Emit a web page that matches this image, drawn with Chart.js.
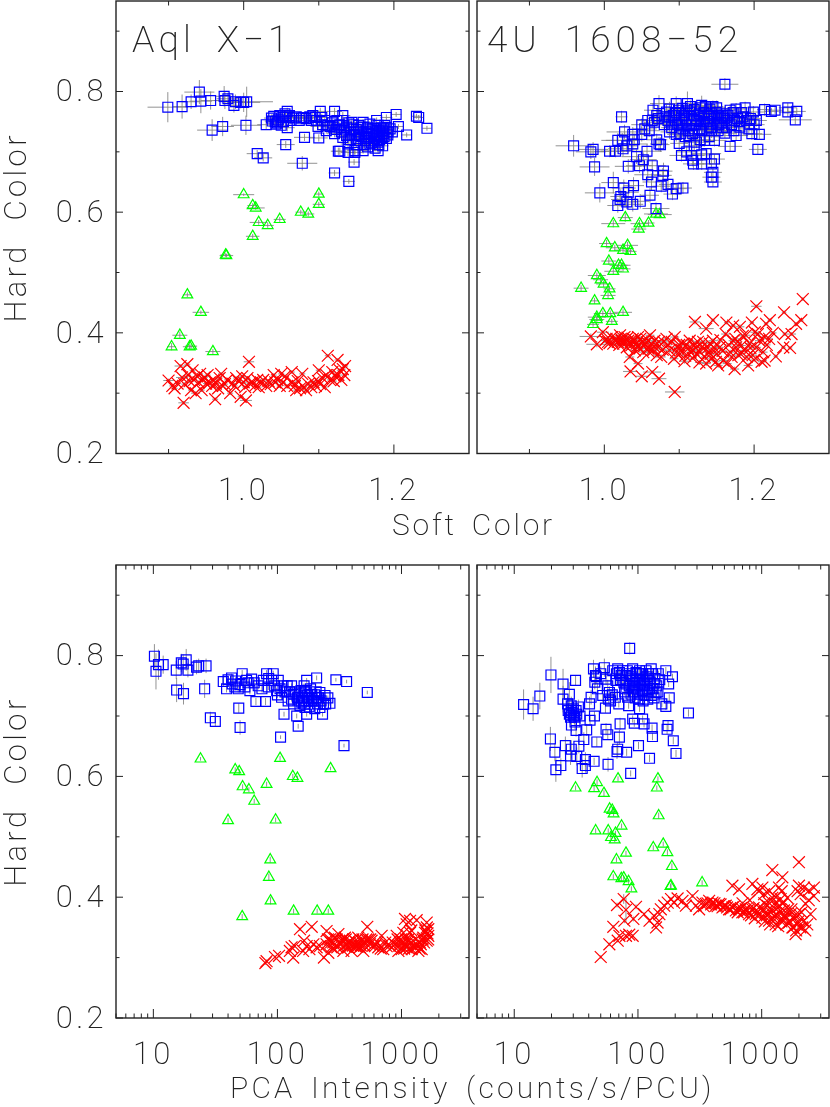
<!DOCTYPE html>
<html><head><meta charset="utf-8">
<script src="https://cdn.jsdelivr.net/npm/chart.js@4"></script>
<style>
html,body{margin:0;padding:0;background:#fff;width:830px;height:1107px;overflow:hidden}
canvas{position:absolute}
.t{position:absolute;font-family:Roboto,sans-serif;font-weight:200;color:#222;white-space:pre;line-height:1;will-change:opacity;opacity:.99}
</style></head><body>
<canvas id="c1" style="left:0;top:0" width="470" height="510"></canvas>
<canvas id="c2" style="left:476px;top:0" width="354" height="510"></canvas>
<canvas id="c3" style="left:0;top:540px" width="470" height="530"></canvas>
<canvas id="c4" style="left:476px;top:540px" width="354" height="530"></canvas>
<div class="t" style="left:132px;top:21px;font-size:37px;letter-spacing:4px;word-spacing:9px">Aql X−1</div>
<div class="t" style="left:487px;top:21px;font-size:37px;letter-spacing:5px;word-spacing:9px">4U 1608−52</div>
<div class="t" style="left:392px;top:510px;font-size:30px;letter-spacing:2.8px;word-spacing:5px">Soft Color</div>
<div class="t" style="left:230px;top:1073px;font-size:30px;letter-spacing:3.2px;word-spacing:5px">PCA Intensity (counts/s/PCU)</div>
<script>
// Colour-colour panels: [soft colour, hard colour, x error, y error]
const aqlSoftBlue=[[.899,.774,.027,.025],[.918,.775,.012,.02],[.930,.783,.012,.012],[.941,.799,.02,.02],[.943,.784,.015,.02],[.956,.785,.013,.015],[.974,.792,.012,.017],[.975,.785,.015,.014],[.979,.788,.015,.01],[.987,.777,.01,.012],[.989,.783,.012,.012],[.996,.782,.012,.01],[1.0,.782,.022,.016],[1.004,.783,.035,.025],[.958,.736,.02,.018],[.972,.742,.015,.016],[1.003,.744,.02,.016],[1.030,.745,.012,.008],[1.056,.712,.012,.006],[1.018,.697,.014,.006],[1.026,.690,.012,.006],[1.078,.681,.02,.012],[1.081,.724,.014,.006],[1.100,.723,.012,.006],
[1.037,.756,.01,.006],[1.040,.759,.01,.006],[1.038,.751,.01,.006],[1.043,.746,.01,.006],[1.046,.753,.01,.006],[1.048,.760,.01,.006],[1.050,.744,.01,.006],[1.055,.763,.01,.006],[1.058,.767,.01,.006],[1.058,.740,.01,.006],[1.061,.760,.01,.006],[1.061,.757,.01,.006],[1.066,.756,.01,.006],[1.077,.756,.01,.006],[1.080,.757,.01,.006],[1.092,.760,.01,.006],[1.095,.757,.01,.006],[1.097,.752,.01,.006],[1.099,.742,.01,.006],[1.102,.767,.01,.006],[1.104,.757,.01,.006],[1.108,.752,.01,.006],[1.112,.744,.01,.006],[1.115,.742,.01,.006],[1.119,.741,.01,.006],[1.121,.767,.01,.006],[1.124,.752,.01,.006],[1.126,.744,.01,.006],[1.121,.730,.01,.006],[1.132,.760,.01,.006],[1.132,.752,.01,.006],[1.137,.741,.01,.006],[1.137,.727,.01,.006],[1.144,.749,.01,.006],[1.146,.738,.01,.006],[1.139,.713,.01,.006],[1.126,.701,.01,.006],[1.128,.701,.01,.006],[1.139,.699,.01,.006],[1.148,.699,.01,.006],[1.148,.702,.01,.006],[1.159,.702,.008,.005],[1.147,.683,.008,.005],[1.121,.665,.008,.005],[1.140,.651,.008,.004],[1.179,.702,.008,.005],[1.168,.713,.008,.005],[1.179,.716,.008,.005],[1.159,.749,.008,.005],[1.159,.741,.008,.005],[1.164,.733,.008,.005],[1.168,.746,.008,.005],[1.170,.730,.008,.005],[1.177,.752,.008,.005],[1.179,.744,.008,.005],[1.181,.733,.008,.005],[1.186,.738,.008,.005],[1.190,.757,.008,.005],[1.184,.724,.008,.005],[1.190,.722,.008,.005],[1.192,.733,.008,.005],[1.198,.733,.008,.005],[1.206,.742,.007,.004],[1.203,.762,.007,.004],[1.217,.728,.007,.004],[1.230,.759,.007,.004],[1.233,.757,.007,.004],[1.244,.739,.006,.004],[1.152,.722,.008,.005],[1.153,.733,.008,.005],[1.157,.725,.008,.005],[1.162,.719,.008,.005],[1.166,.725,.008,.005],[1.173,.722,.008,.005],[1.177,.727,.008,.005],[1.175,.739,.008,.005],[1.186,.730,.008,.005],[1.188,.744,.008,.005],[1.153,.744,.008,.005],[1.148,.727,.008,.005],[1.142,.733,.008,.005],[1.130,.733,.008,.005],[1.132,.724,.008,.005],
[1.105,.745,.008,.005],[1.11,.735,.008,.005],[1.118,.748,.008,.005],[1.123,.737,.008,.005],[1.128,.745,.008,.005],[1.134,.738,.008,.005],[1.14,.748,.008,.005],[1.142,.72,.008,.005],[1.146,.745,.008,.005],[1.15,.737,.008,.005],[1.154,.728,.008,.005],[1.156,.74,.008,.005],[1.16,.73,.008,.005],[1.163,.722,.008,.005],[1.165,.74,.008,.005],[1.168,.73,.008,.005],[1.171,.738,.008,.005],[1.174,.718,.008,.005],[1.176,.733,.008,.005],[1.178,.725,.008,.005],[1.181,.72,.008,.005],[1.183,.74,.008,.005],[1.185,.735,.008,.005],[1.187,.725,.008,.005],[1.19,.74,.008,.005],[1.192,.728,.008,.005],[1.195,.738,.008,.005],[1.18,.712,.008,.005],[1.17,.715,.008,.005],[1.16,.712,.008,.005],[1.15,.712,.008,.005],[1.14,.72,.008,.005],[1.165,.708,.008,.005],[1.175,.706,.008,.005],[1.185,.71,.008,.005],[1.042,.75,.01,.006],[1.045,.748,.01,.006],[1.052,.757,.01,.006],[1.053,.75,.01,.006],[1.056,.758,.01,.006],[1.063,.752,.01,.006],[1.07,.758,.01,.006],[1.074,.752,.01,.006],[1.083,.755,.01,.006],[1.088,.758,.01,.006],[1.09,.752,.01,.006]];
const aqlSoftGreen=[[1.000,.629,.014,.002],[1.012,.611,.007,.004],[1.016,.607,.012,.003],[1.020,.583,.012,.004],[1.032,.578,.008,.004],[1.048,.588,.008,.004],[1.012,.560,.009,.004],[.977,.528,.009,.003],[.976,.529,.007,.003],[1.076,.600,.007,.004],[1.086,.597,.008,.004],[1.100,.630,.006,.004],[1.100,.613,.008,.004],[.925,.463,.006,.004],[.943,.434,.011,.003],[.915,.396,.01,.006],[.904,.377,.006,.006],[.928,.377,.009,.004],[.930,.378,.008,.004],[.959,.369,.01,.004]];
const aqlSoftRed=[[.900,.321,.007,.003],[.905,.312,.004,.003],[.908,.308,.004,.003],[.912,.316,.004,.003],[.916,.345,.008,.003],[.918,.326,.008,.003],[.920,.284,.007,.003],[.921,.315,.004,.003],[.925,.348,.004,.003],[.926,.330,.004,.003],[.928,.320,.004,.003],[.930,.305,.004,.003],[.932,.338,.004,.003],[.934,.322,.004,.003],[.936,.300,.006,.003],[.938,.328,.004,.003],[.940,.318,.004,.003],[.942,.332,.004,.003],[.944,.305,.004,.003],[.946,.323,.004,.003],[.948,.326,.004,.003],[.950,.316,.004,.003],[.952,.330,.004,.003],[.955,.318,.004,.003],[.958,.312,.004,.003],[.960,.322,.004,.003],[.962,.290,.004,.003],[.963,.316,.004,.003],[.966,.308,.004,.003],[.968,.325,.004,.003],[.970,.332,.004,.003],[.972,.312,.004,.003],[.975,.315,.004,.003],[.978,.322,.004,.003],[.982,.300,.004,.003],[.985,.316,.004,.003],[.988,.312,.004,.003],[.990,.325,.004,.003],[.993,.320,.004,.003],[.996,.294,.004,.003],[.998,.328,.004,.003],[1.000,.318,.004,.003],[1.002,.310,.004,.003],[1.003,.288,.008,.003],[1.005,.325,.004,.003],[1.007,.352,.007,.003],[1.008,.316,.004,.003],[1.012,.318,.004,.003],[1.015,.312,.004,.003],[1.018,.322,.004,.003],[1.02,.310,.004,.003],[1.023,.318,.004,.003],[1.026,.322,.004,.003],[1.03,.312,.004,.003],[1.033,.32,.004,.003],[1.036,.315,.004,.003],[1.04,.33,.004,.003],[1.042,.318,.004,.003],[1.045,.322,.004,.003],[1.048,.312,.004,.003],[1.05,.332,.004,.003],[1.052,.318,.004,.003],[1.055,.328,.004,.003],[1.058,.312,.004,.003],[1.064,.335,.004,.003],[1.065,.318,.004,.003],[1.068,.312,.004,.003],[1.07,.305,.004,.003],[1.072,.32,.004,.003],[1.075,.308,.004,.003],[1.078,.332,.004,.003],[1.08,.31,.004,.003],[1.083,.305,.004,.003],[1.086,.315,.004,.003],[1.09,.31,.004,.003],[1.093,.318,.004,.003],[1.096,.312,.004,.003],[1.099,.32,.004,.003],[1.10,.338,.004,.003],[1.102,.315,.004,.003],[1.105,.325,.004,.003],[1.108,.31,.004,.003],[1.11,.33,.004,.003],[1.112,.362,.004,.003],[1.115,.322,.004,.003],[1.118,.335,.004,.003],[1.12,.32,.004,.003],[1.122,.328,.004,.003],[1.125,.355,.004,.003],[1.126,.33,.004,.003],[1.128,.338,.004,.003],[1.13,.322,.004,.003],[1.132,.34,.004,.003],[1.134,.33,.004,.003],[1.135,.345,.004,.003]];
const u4SoftBlue=[[1.161,.812,.018,.01],[1.023,.758,.008,.01],[.959,.710,.024,.018],[.985,.704,.02,.012],[.982,.700,.02,.012],[1.007,.701,.02,.01],[1.015,.701,.02,.01],[1.018,.719,.022,.012],[1.024,.719,.022,.012],[1.027,.733,.024,.012],[1.038,.729,.02,.012],[1.038,.713,.02,.012],[1.025,.705,.02,.012],[.987,.675,.02,.015],[1.032,.676,.018,.012],[1.047,.677,.018,.012],[1.052,.687,.018,.012],[1.043,.692,.02,.012],[1.057,.701,.02,.012],[1.064,.677,.018,.01],[1.058,.662,.018,.012],[1.012,.649,.016,.018],[.994,.632,.02,.016],[1.026,.640,.016,.014],[1.039,.644,.014,.014],[1.032,.633,.014,.014],[1.022,.626,.014,.012],[1.021,.621,.012,.012],[1.018,.611,.014,.012],[1.030,.617,.014,.012],[1.038,.613,.014,.012],[1.048,.618,.012,.012],[1.061,.628,.012,.012],[1.063,.650,.012,.014],[1.079,.668,.012,.014],[1.078,.661,.012,.012],[1.076,.643,.012,.01],[1.085,.646,.012,.01],[1.091,.630,.012,.01],[1.096,.639,.014,.01],[1.105,.640,.012,.01],[1.069,.606,.018,.01],[1.073,.713,.012,.012],[1.075,.712,.012,.012],[1.050,.729,.014,.012],[1.054,.738,.016,.012],[1.065,.769,.012,.012],[1.073,.780,.012,.014],[1.064,.752,.014,.012],[1.072,.755,.014,.012],[1.070,.760,.014,.012],[1.081,.758,.016,.012],[1.087,.771,.016,.012],[1.096,.780,.016,.012],[1.099,.769,.016,.012],[1.103,.760,.016,.014],[1.111,.780,.014,.02],[1.105,.749,.014,.012],[1.090,.746,.012,.012],[1.087,.733,.012,.012],[1.096,.729,.012,.012],[1.100,.714,.012,.012],[1.103,.694,.016,.01],[1.116,.694,.018,.01],[1.118,.686,.014,.01],[1.119,.680,.014,.01],[1.130,.680,.014,.01],[1.136,.697,.02,.008],[1.147,.688,.014,.008],[1.143,.680,.012,.008],[1.145,.666,.012,.008],[1.143,.658,.012,.008],[1.145,.650,.012,.008],[1.168,.709,.016,.008],[1.176,.727,.016,.008],[1.161,.731,.016,.008],[1.147,.719,.016,.01],[1.134,.719,.016,.01],[1.123,.716,.016,.01],[1.113,.727,.016,.012],[1.127,.738,.016,.012],[1.116,.744,.014,.012],[1.110,.755,.014,.012],[1.119,.760,.014,.012],[1.130,.777,.016,.016],[1.127,.763,.016,.012],[1.141,.771,.014,.012],[1.139,.755,.014,.012],[1.137,.738,.014,.012],[1.150,.746,.014,.012],[1.152,.760,.014,.012],[1.161,.763,.014,.012],[1.163,.752,.014,.01],[1.174,.752,.016,.01],[1.176,.771,.014,.01],[1.188,.773,.014,.01],[1.199,.766,.014,.01],[1.185,.758,.014,.01],[1.193,.738,.014,.01],[1.203,.752,.014,.01],[1.207,.729,.016,.008],[1.205,.704,.012,.008],[1.214,.770,.01,.01],[1.223,.767,.01,.006],[1.228,.769,.01,.006],[1.245,.773,.012,.008],[1.245,.766,.012,.008],[1.257,.767,.012,.006],[1.255,.753,.022,.008],[1.168,.769,.014,.01],[1.152,.735,.014,.01],[1.123,.752,.014,.012],[1.101,.744,.014,.012],[1.092,.760,.014,.012],[1.083,.766,.014,.012],[1.067,.749,.014,.012],[1.114,.766,.014,.012],[1.132,.746,.014,.012],[1.143,.763,.014,.012],[1.156,.749,.014,.01],[1.194,.746,.014,.01],[1.181,.741,.014,.01],[1.163,.741,.014,.01],[1.141,.746,.014,.012],[1.105,.738,.014,.012],[1.087,.758,.014,.012],[1.128,.773,.012,.012],[1.150,.773,.012,.012],[1.134,.755,.012,.012],[1.110,.769,.012,.012],[1.120,.738,.012,.012],[1.143,.735,.012,.012],[1.095,.752,.012,.012],[1.158,.758,.012,.01],
[1.08,.745,.014,.01],[1.085,.752,.014,.01],[1.09,.74,.014,.01],[1.095,.765,.014,.01],[1.098,.745,.014,.01],[1.102,.73,.014,.01],[1.104,.772,.014,.01],[1.107,.76,.014,.01],[1.11,.745,.014,.01],[1.112,.735,.014,.01],[1.115,.775,.014,.01],[1.117,.755,.014,.01],[1.12,.77,.014,.01],[1.122,.745,.014,.01],[1.125,.76,.014,.01],[1.128,.75,.014,.01],[1.13,.735,.014,.01],[1.133,.765,.014,.01],[1.135,.775,.014,.01],[1.138,.75,.014,.01],[1.14,.76,.014,.01],[1.142,.74,.014,.01],[1.145,.775,.014,.01],[1.147,.755,.014,.01],[1.15,.765,.014,.01],[1.153,.745,.014,.01],[1.155,.755,.014,.01],[1.158,.74,.014,.01],[1.16,.755,.014,.01],[1.165,.76,.014,.01],[1.17,.745,.014,.01],[1.173,.735,.014,.01],[1.178,.755,.014,.01],[1.18,.75,.014,.01],[1.183,.765,.014,.01],[1.19,.752,.014,.01],[1.195,.755,.014,.01],[1.2,.745,.014,.01],[1.197,.73,.014,.01],[1.172,.765,.014,.01],[1.10,.752,.014,.01],[1.108,.725,.014,.01],[1.118,.73,.014,.01],[1.128,.72,.014,.01],[1.14,.725,.014,.01],[1.11,.7,.014,.01],[1.12,.71,.014,.01],[1.13,.695,.014,.01],[1.06,.735,.014,.01],[1.05,.745,.014,.01],[1.058,.752,.014,.01],[1.04,.72,.014,.01],[1.03,.71,.014,.01],[1.07,.72,.014,.01]];
const u4SoftGreen=[[1.069,.597,.016,.006],[1.074,.596,.016,.006],[1.028,.591,.01,.007],[1.012,.581,.016,.006],[1.047,.581,.012,.006],[1.059,.582,.008,.005],[1.046,.572,.01,.005],[1.003,.548,.01,.006],[1.014,.541,.012,.005],[1.031,.545,.014,.006],[1.025,.537,.012,.005],[1.035,.535,.008,.005],[1.006,.519,.01,.006],[1.019,.512,.012,.005],[1.012,.502,.012,.005],[1.023,.512,.012,.005],[1.025,.506,.01,.005],[.990,.495,.012,.005],[.995,.488,.01,.005],[.999,.481,.01,.005],[.969,.474,.01,.005],[1.007,.473,.008,.005],[1.005,.462,.01,.005],[.987,.453,.006,.005],[1.025,.434,.012,.005],[1.008,.432,.01,.005],[.998,.432,.012,.005],[.990,.426,.012,.004],[.990,.422,.01,.004],[.985,.414,.008,.004],[1.010,.419,.008,.004]];
const u4SoftRed=[[1.265,.456,.002,.003],[1.203,.444,.007,.003],[1.240,.434,.003,.003],[1.263,.421,.003,.003],[1.256,.415,.003,.003],[1.250,.398,.006,.003],[1.241,.398,.003,.003],[1.248,.375,.003,.003],[1.239,.376,.003,.003],[1.229,.361,.003,.003],[1.214,.354,.003,.003],[1.221,.421,.003,.003],[1.216,.415,.003,.003],[1.197,.417,.003,.003],[1.121,.418,.007,.004],[1.145,.421,.003,.003],[1.163,.417,.003,.003],[1.172,.412,.003,.003],[1.136,.407,.01,.003],[.982,.394,.015,.005],[.998,.401,.008,.004],[.990,.381,.014,.005],[1.094,.302,.013,.003],[1.073,.324,.01,.003],[1.064,.335,.012,.003],[1.050,.328,.008,.003],[1.035,.336,.01,.003],[1.045,.349,.006,.003],[1.001,.387,.006,.004],[1.005,.385,.006,.004],[1.010,.393,.006,.004],[1.012,.382,.006,.004],[1.016,.390,.006,.004],[1.018,.385,.006,.004],[1.021,.396,.006,.004],[1.023,.387,.006,.004],[1.025,.382,.006,.004],[1.027,.393,.006,.004],[1.030,.376,.006,.004],[1.032,.387,.006,.004],[1.034,.360,.006,.004],[1.036,.379,.006,.004],[1.038,.390,.006,.004],[1.041,.371,.006,.004],[1.043,.382,.006,.004],[1.045,.393,.006,.004],[1.047,.374,.006,.004],[1.050,.385,.006,.004],[1.052,.368,.006,.004],[1.054,.382,.006,.004],[1.056,.390,.006,.004],[1.059,.374,.006,.004],[1.061,.396,.006,.004],[1.063,.382,.006,.004],[1.065,.371,.006,.004],[1.067,.387,.006,.004],[1.070,.363,.006,.004],[1.072,.376,.006,.004],[1.076,.360,.006,.004],[1.079,.385,.006,.004],[1.083,.390,.006,.004],[1.087,.371,.006,.004],[1.093,.357,.006,.004],[1.094,.393,.006,.004],[1.098,.376,.006,.004],[1.101,.365,.006,.004],[1.105,.382,.006,.004],[1.107,.353,.006,.004],[1.112,.374,.006,.004],[1.114,.387,.006,.004],[1.119,.371,.006,.004],[1.121,.382,.006,.004],[1.123,.365,.006,.004],[1.127,.351,.006,.004],[1.130,.376,.006,.004],[1.132,.385,.006,.004],[1.136,.349,.006,.004],[1.139,.368,.006,.004],[1.141,.382,.006,.004],[1.143,.357,.006,.004],[1.145,.387,.006,.004],[1.150,.365,.006,.004],[1.152,.346,.006,.004],[1.154,.376,.006,.004],[1.159,.354,.006,.004],[1.162,.398,.006,.004],[1.164,.349,.006,.004],[1.168,.368,.006,.004],[1.172,.387,.006,.004],[1.174,.340,.006,.004],[1.176,.376,.006,.004],[1.179,.363,.006,.004],[1.181,.410,.006,.004],[1.183,.379,.006,.004],[1.187,.371,.006,.004],[1.189,.396,.006,.004],[1.192,.346,.006,.004],[1.194,.382,.006,.004],[1.198,.363,.006,.004],[1.201,.401,.006,.004],[1.203,.376,.006,.004],[1.207,.387,.006,.004],[1.212,.368,.006,.004],[1.214,.393,.006,.004],
[1.003,.39,.005,.003],[1.007,.383,.005,.003],[1.014,.388,.005,.003],[1.02,.38,.005,.003],[1.022,.39,.005,.003],[1.028,.385,.005,.003],[1.031,.392,.005,.003],[1.035,.383,.005,.003],[1.04,.388,.005,.003],[1.044,.378,.005,.003],[1.048,.39,.005,.003],[1.053,.378,.005,.003],[1.057,.384,.005,.003],[1.06,.368,.005,.003],[1.066,.378,.005,.003],[1.073,.385,.005,.003],[1.078,.372,.005,.003],[1.085,.38,.005,.003],[1.09,.385,.005,.003],[1.096,.368,.005,.003],[1.1,.38,.005,.003],[1.103,.372,.005,.003],[1.108,.362,.005,.003],[1.11,.38,.005,.003],[1.115,.368,.005,.003],[1.118,.358,.005,.003],[1.122,.375,.005,.003],[1.125,.385,.005,.003],[1.128,.368,.005,.003],[1.134,.36,.005,.003],[1.138,.375,.005,.003],[1.142,.365,.005,.003],[1.147,.375,.005,.003],[1.149,.352,.005,.003],[1.155,.388,.005,.003],[1.158,.37,.005,.003],[1.166,.38,.005,.003],[1.17,.36,.005,.003],[1.175,.39,.005,.003],[1.178,.385,.005,.003],[1.182,.365,.005,.003],[1.185,.395,.005,.003],[1.19,.36,.005,.003],[1.195,.375,.005,.003],[1.2,.355,.005,.003],[1.205,.398,.005,.003],[1.21,.352,.005,.003],[1.217,.38,.005,.003],[1.22,.39,.005,.003],[1.225,.4,.005,.003]];
// Intensity panels: [counts/s/PCU, hard colour, y error]
const aqlIntBlue=[[10.2,.799,.02],[10.5,.774,.03],[11,.785,.025],[12,.785,.015],[15.4,.743,.02],[15.3,.776,.015],[16.8,.788,.015],[18.4,.793,.018],[17.4,.786,.016],[19,.776,.012],[17.5,.737,.018],[22.3,.781,.012],[23.2,.783,.012],[26.6,.783,.012],[25.9,.745,.015],[28.8,.697,.01],[31.6,.691,.008],[50,.681,.012],[48.8,.713,.008],[36.6,.757,.008],[38.9,.745,.006],[42.7,.763,.007],[43.2,.753,.007],[45.4,.748,.006],[48.3,.745,.006],[52,.770,.006],[54.7,.748,.006],[56.4,.759,.006],[60,.742,.006],[61.9,.761,.006],[67.1,.724,.006],[80.2,.724,.006],[76.9,.759,.006],[81.8,.770,.006],[84.4,.748,.005],[89.7,.759,.005],[92.5,.770,.005],[98.5,.742,.005],[101.6,.759,.005],[108,.731,.004],[111,.750,.004],[113,.703,.004],[122,.725,.004],[134,.736,.004],[143,.700,.004],[147,.683,.004],[157,.723,.004],[164,.750,.004],[172,.759,.004],[177,.725,.004],[189,.736,.004],[200,.712,.004],[207,.763,.004],[207,.731,.004],[220,.739,.004],[231,.703,.004],[242,.734,.004],[265,.721,.004],[296,.760,.003],[361,.757,.003],[530,.739,.003],[344,.651,.003],[106,.665,.003],[152,.717,.004],[172,.703,.004],[189,.725,.004],[167,.714,.004],[220,.714,.004],[147,.731,.004],[130,.728,.004],
[40,.76,.006],[46,.758,.006],[50,.752,.006],[58,.755,.006],[65,.755,.006],[70,.75,.006],[75,.745,.006],[85,.762,.005],[95,.75,.005],[100,.735,.005],[105,.745,.005],[115,.74,.004],[120,.75,.004],[125,.74,.004],[130,.75,.004],[135,.72,.004],[140,.74,.004],[145,.73,.004],[150,.738,.004],[155,.742,.004],[160,.73,.004],[165,.72,.004],[170,.74,.004],[175,.735,.004],[180,.715,.004],[185,.745,.004],[190,.73,.004],[195,.725,.004],[205,.74,.004],[210,.72,.004],[215,.73,.004],[225,.725,.004],[235,.72,.004],[245,.72,.004],[255,.73,.004],[200,.735,.004],[180,.73,.004],[170,.725,.004],[150,.725,.004],[165,.74,.004]];
const aqlIntGreen=[[24,.629,.003],[45.7,.611,.004],[49.2,.608,.004],[52.4,.583,.004],[58.9,.578,.004],[81.8,.587,.004],[65,.559,.004],[105,.630,.004],[133,.600,.004],[145,.597,.004],[268,.613,.003],[40,.527,.004],[96.7,.528,.004],[87.5,.462,.005],[85.3,.433,.006],[88,.394,.006],[52,.368,.004],[135,.377,.004],[209,.377,.004],[257,.377,.004]];
const aqlIntRed=[[80,.291,.003],[81.8,.294,.003],[95.5,.301,.003],[103,.303,.003],[130,.317,.003],[126,.311,.003],[134,.300,.003],[138,.319,.003],[152,.347,.003],[164,.328,.003],[161,.311,.003],[172,.319,.003],[189,.351,.003],[181,.314,.003],[195,.322,.003],[207,.317,.003],[220,.319,.003],[237,.300,.003],[249,.344,.003],[249,.322,.003],[257,.308,.003],[265,.330,.003],[273,.317,.003],[282,.325,.003],[291,.333,.003],[304,.317,.003],[310,.339,.003],[319,.322,.003],[329,.328,.003],[340,.311,.003],[350,.333,.003],[361,.322,.003],[372,.317,.003],[384,.328,.003],[396,.311,.003],[409,.330,.003],[422,.319,.003],[434,.325,.003],[448,.333,.003],[462,.317,.003],[477,.328,.003],[492,.311,.003],[508,.325,.003],[530,.351,.003],[540,.330,.003],[557,.322,.003],[574,.328,.003],[611,.319,.003],[650,.317,.003],[692,.336,.003],[713,.314,.003],[759,.319,.003],[833,.317,.003],[887,.322,.003],[915,.336,.003],[944,.311,.003],[973,.325,.003],[1003,.314,.003],[1035,.341,.003],[1067,.364,.003],[1067,.322,.003],[1100,.317,.003],[1135,.330,.003],[1172,.361,.003],[1172,.341,.003],[1208,.314,.003],[1285,.317,.003],[1325,.362,.003],[1325,.322,.003],[1368,.311,.003],[1409,.325,.003],[1455,.314,.003],[1500,.333,.003],[1546,.341,.003],[1596,.358,.003],[1596,.328,.003],[1644,.336,.003],[1644,.347,.003],
[255,.33,.003],[270,.325,.003],[285,.315,.003],[300,.33,.003],[315,.325,.003],[335,.33,.003],[345,.32,.003],[355,.33,.003],[375,.325,.003],[390,.32,.003],[405,.32,.003],[430,.32,.003],[440,.318,.003],[455,.325,.003],[470,.32,.003],[485,.33,.003],[500,.32,.003],[520,.33,.003],[560,.33,.003],[590,.32,.003],[640,.325,.003],[680,.315,.003],[740,.325,.003],[800,.32,.003],[850,.325,.003],[930,.33,.003],[960,.32,.003],[990,.33,.003],[1020,.325,.003],[1050,.315,.003],[1090,.33,.003],[1120,.325,.003],[1150,.315,.003],[1190,.325,.003],[1250,.32,.003],[1300,.33,.003],[1350,.32,.003],[1400,.315,.003],[1430,.322,.003],[1480,.33,.003],[1520,.325,.003],[1560,.345,.003],[1620,.34,.003],[1640,.33,.003],[1600,.35,.003],[1200,.345,.003],[1100,.355,.003]];
const u4IntBlue=[[85.7,.812,.01],[19.8,.768,.03],[24.8,.753,.025],[31.3,.759,.008],[16.1,.733,.022],[11.9,.719,.025],[14.2,.712,.02],[24.8,.728,.022],[27.9,.736,.02],[28.9,.717,.015],[27.9,.703,.012],[30.1,.700,.012],[31.6,.709,.012],[28.9,.706,.012],[30,.712,.012],[30.7,.698,.012],[27.3,.709,.012],[43.7,.778,.015],[45.3,.767,.015],[44.8,.756,.012],[53.5,.780,.015],[55.2,.761,.01],[57,.750,.01],[58.8,.739,.01],[51.9,.734,.012],[58,.728,.008],[41.8,.731,.012],[40.6,.720,.012],[41,.693,.008],[44.5,.700,.008],[54.6,.713,.008],[65.6,.731,.008],[62.5,.775,.006],[68.6,.778,.006],[66.6,.759,.006],[75.3,.775,.006],[75.3,.759,.006],[80,.745,.006],[85,.770,.006],[90.6,.759,.005],[96.4,.772,.005],[96.4,.748,.005],[103,.761,.005],[109,.770,.005],[109,.742,.005],[116,.775,.005],[120,.759,.005],[120,.728,.005],[131,.770,.005],[135,.753,.005],[140,.739,.005],[103,.728,.005],[84,.717,.005],[103,.712,.005],[168,.775,.006],[190,.765,.005],[177,.753,.005],[179,.730,.006],[156,.720,.005],[168,.716,.006],[256,.705,.006],[71.7,.687,.01],[90.6,.695,.006],[93.4,.688,.006],[109,.695,.006],[112,.687,.006],[130,.680,.006],[175,.684,.008],[172,.678,.008],[131,.666,.006],[193,.659,.006],[203,.638,.006],[101,.651,.006],[124,.630,.006],[87.3,.605,.005],[81,.640,.006],[68.6,.645,.012],[67.7,.641,.012],[70.8,.665,.012],[57,.669,.008],[55.2,.678,.01],[46.5,.657,.008],[38.5,.677,.01],[36.5,.661,.012],[31.6,.676,.01],[33.3,.650,.012],[19.6,.662,.02],[21.3,.640,.015],[25.9,.651,.015],[28.9,.645,.015],[28.5,.634,.015],[32,.633,.015],[37.6,.628,.012],[44.2,.625,.006],[57.3,.620,.012],[37.6,.618,.012],[35.4,.613,.015],[23.8,.618,.012],[21.7,.611,.02],[70.8,.772,.006],[80,.767,.006],[90.6,.745,.006],[103,.775,.006],[112,.753,.005],[124,.745,.005],[128,.778,.005],[80,.753,.006],[99.8,.736,.005],[116,.734,.005],[90.6,.778,.005],[106,.750,.005],[87.9,.736,.006],[128,.734,.005],[73,.767,.006],[96.4,.761,.006],[82.5,.731,.006],
[67,.77,.006],[72,.76,.006],[77,.755,.006],[82,.775,.006],[88,.765,.005],[93,.75,.005],[98,.77,.005],[100,.755,.005],[105,.77,.005],[110,.76,.005],[113,.75,.005],[118,.765,.005],[122,.77,.005],[126,.755,.005],[132,.745,.005],[137,.762,.005],[142,.75,.005],[146,.77,.005],[150,.76,.005],[78,.74,.006],[85,.75,.006],[92,.74,.005],[100,.74,.005],[112,.735,.005],[120,.74,.005],[135,.73,.005],[145,.74,.005],[95,.73,.005],[110,.725,.005],[70,.72,.006],[60,.725,.008],[62,.735,.008],[46,.765,.012],[50,.77,.012],[47,.745,.01],[30,.705,.012],[29,.71,.012],[32,.703,.012],[28.5,.698,.012],[33,.715,.012],[31,.69,.012],[29,.685,.012],[27,.72,.012],[34,.70,.012]];
const u4IntGreen=[[31.3,.581,.004],[46.7,.590,.005],[44.2,.580,.005],[69,.596,.004],[53.1,.572,.005],[145,.596,.004],[142,.581,.004],[59,.546,.004],[62,.544,.004],[63.5,.538,.004],[147,.535,.005],[73.7,.518,.004],[45.5,.510,.004],[57.5,.510,.004],[65.8,.506,.004],[60.5,.499,.004],[64.9,.495,.004],[133,.482,.004],[160,.488,.004],[173,.474,.005],[80,.473,.004],[67,.462,.004],[188,.451,.005],[63.2,.434,.004],[73.4,.431,.004],[76.7,.432,.004],[84,.426,.004],[88.5,.414,.004],[185,.419,.005],[183,.418,.004],[330,.424,.004]];
const u4IntRed=[[50,.301,.003],[58.7,.322,.003],[68.6,.328,.003],[63.2,.351,.003],[67.7,.387,.004],[76.7,.397,.008],[80,.379,.02],[77.7,.361,.004],[91.8,.364,.004],[96.4,.384,.004],[70.8,.336,.003],[80,.336,.003],[85,.338,.003],[90.6,.336,.003],[112,.372,.003],[124,.361,.003],[135,.369,.003],[140,.350,.003],[144,.358,.003],[149,.372,.003],[153,.380,.003],[163,.386,.003],[174,.391,.003],[185,.397,.003],[196,.391,.003],[209,.398,.003],[229,.394,.003],[244,.386,.003],[276,.402,.003],[294,.386,.003],[312,.380,.003],[332,.391,.003],[354,.389,.003],[376,.394,.003],[400,.391,.003],[426,.386,.003],[453,.389,.003],[482,.383,.003],[512,.386,.003],[545,.380,.003],[580,.419,.003],[580,.383,.003],[618,.378,.003],[656,.413,.003],[656,.380,.003],[698,.375,.003],[743,.380,.003],[791,.372,.003],[841,.422,.003],[841,.380,.003],[895,.372,.003],[923,.413,.003],[952,.383,.003],[1013,.366,.003],[1013,.416,.003],[1045,.405,.003],[1078,.375,.003],[1111,.386,.003],[1146,.361,.003],[1183,.375,.003],[1219,.445,.003],[1219,.399,.003],[1258,.369,.003],[1297,.355,.003],[1340,.383,.003],[1380,.416,.003],[1380,.375,.003],[1423,.397,.003],[1469,.433,.003],[1469,.364,.003],[1514,.378,.003],[1563,.366,.003],[1611,.399,.003],[1663,.358,.003],[1714,.372,.003],[1770,.350,.003],[1824,.364,.003],[1880,.339,.003],[1941,.355,.003],[2000,.458,.003],[2000,.419,.003],[2000,.372,.003],[2065,.405,.003],[2128,.350,.003],[2198,.416,.003],[2265,.389,.003],[2336,.355,.003],[2410,.411,.003],[2483,.372,.003],[2642,.416,.003],[2642,.402,.003],
[340,.385,.003],[365,.39,.003],[390,.388,.003],[415,.39,.003],[440,.385,.003],[465,.388,.003],[495,.385,.003],[525,.383,.003],[560,.38,.003],[600,.385,.003],[640,.375,.003],[680,.382,.003],[720,.375,.003],[770,.378,.003],[820,.37,.003],[860,.382,.003],[880,.365,.003],[920,.375,.003],[980,.372,.003],[1030,.38,.003],[1060,.36,.003],[1100,.37,.003],[1130,.392,.003],[1170,.355,.003],[1200,.38,.003],[1240,.365,.003],[1280,.39,.003],[1320,.37,.003],[1360,.352,.003],[1400,.385,.003],[1440,.36,.003],[1490,.39,.003],[1530,.37,.003],[1580,.355,.003],[1640,.38,.003],[1690,.36,.003],[1740,.38,.003],[1800,.35,.003],[1860,.37,.003],[1900,.345,.003],[1980,.36,.003],[2050,.35,.003],[2100,.375,.003],[2170,.36,.003],[2250,.345,.003],[1300,.4,.003],[1050,.39,.003],[950,.41,.003],[1150,.41,.003],[1450,.41,.003],[800,.395,.003],[700,.39,.003],[2400,.395,.003],[1950,.41,.003]];
// Axis ticks and labels
const yTicks=[.2,.3,.4,.5,.6,.7,.8,.9];
const yLabelled=[.2,.4,.6,.8];
const softTicks=[.9,1,1.1,1.2];
const softLabelled=[1,1.2];
const logTicks=[5,6,7,8,9,10,20,30,40,50,60,70,80,90,100,200,300,400,500,600,700,800,900,1000,2000,3000];
const logLabelled=[10,100,1000];

const INK='#222';
const near=(a,v)=>a.some(b=>Math.abs(b-v)<1e-6);
const noPad=s=>{s.paddingTop=0;s.paddingBottom=0;s.paddingLeft=0;s.paddingRight=0;};
const frame={id:'frame',
  beforeDraw(ch){ch.ctx.letterSpacing='3.4px';ch.ctx.wordSpacing='12px';},
  beforeDatasetsDraw(ch){ // error bars
    const {ctx,scales:{x,y}}=ch;
    ctx.save();ctx.strokeStyle='#808080';ctx.lineWidth=1;ctx.globalAlpha=.85;ctx.beginPath();
    ch.data.datasets.forEach(d=>d.data.forEach(p=>{
      const px=x.getPixelForValue(p.x),py=y.getPixelForValue(p.y);
      if(p.ex){ctx.moveTo(x.getPixelForValue(p.x-p.ex),py);ctx.lineTo(x.getPixelForValue(p.x+p.ex),py);}
      if(p.ey){ctx.moveTo(px,y.getPixelForValue(p.y-p.ey));ctx.lineTo(px,y.getPixelForValue(p.y+p.ey));}
    }));
    ctx.stroke();ctx.restore();
  },
  afterDraw(ch){
    const {ctx,chartArea:a,scales:{x,y}}=ch;
    const xMaj=x.type==='logarithmic'?logLabelled:softLabelled;
    ctx.save();ctx.strokeStyle=INK;ctx.lineWidth=1.4;ctx.strokeRect(a.left,a.top,a.right-a.left,a.bottom-a.top);
    ctx.lineWidth=1;ctx.beginPath();
    x.ticks.forEach(t=>{const p=x.getPixelForValue(t.value),l=near(xMaj,t.value)?9:4.5;
      ctx.moveTo(p,a.top);ctx.lineTo(p,a.top+l);ctx.moveTo(p,a.bottom);ctx.lineTo(p,a.bottom-l);});
    y.ticks.forEach(t=>{const p=y.getPixelForValue(t.value),l=near(yLabelled,t.value)?7:3.5;
      ctx.moveTo(a.left,p);ctx.lineTo(a.left+l,p);ctx.moveTo(a.right,p);ctx.lineTo(a.right-l,p);});
    ctx.stroke();ctx.restore();
  }};
const F={family:'Roboto, sans-serif',weight:'200'};
function ds(rows,isSoft,color,style,r){
  return {data:rows.map(q=>isSoft?{x:q[0],y:q[1],ex:q[2],ey:q[3]}:{x:q[0],y:q[1],ex:0,ey:q[2]}),
    showLine:false,pointStyle:style,pointRadius:r,pointBorderColor:color,pointBackgroundColor:'transparent',pointBorderWidth:1.2};
}
function panel(id,blue,green,red,isSoft,hasY,xH,padTop){
  const xScale=isSoft?{type:'linear',min:.83,max:1.3}:{type:'logarithmic',min:5,max:3500};
  const xTicks=isSoft?softTicks:logTicks,xLab=isSoft?softLabelled:logLabelled;
  new Chart(document.getElementById(id),{type:'scatter',
    data:{datasets:[ds(blue,isSoft,'#0000ff','rect',7),ds(green,isSoft,'#00ff00','triangle',6.2),ds(red,isSoft,'#ff0000','crossRot',8.4)]},
    plugins:[frame],
    options:{responsive:false,animation:false,devicePixelRatio:1,
      layout:{autoPadding:false,padding:{top:padTop,right:1,bottom:0,left:hasY?0:1}},
      plugins:{legend:{display:false},tooltip:{enabled:false},title:{display:false}},
      scales:{
        x:{...xScale,grid:{display:false,drawTicks:false},border:{display:false},
          afterBuildTicks:s=>{s.ticks=xTicks.map(v=>({value:v}));},
          afterFit:s=>{s.height=xH;noPad(s);},
          ticks:{autoSkip:false,maxRotation:0,minRotation:0,padding:20,color:INK,font:{...F,size:31},
            callback:v=>near(xLab,v)?(isSoft?Number(v).toFixed(1):String(v)):''}},
        y:{type:'linear',min:.2,max:.95,grid:{display:false,drawTicks:false},border:{display:false},
          afterBuildTicks:s=>{s.ticks=yTicks.map(v=>({value:v}));},
          afterFit:s=>{s.width=hasY?116:0;noPad(s);},
          title:{display:hasY,text:'Hard Color',color:INK,font:{...F,size:31},padding:{top:0,bottom:0}},
          ticks:{display:hasY,autoSkip:false,padding:9,color:INK,font:{...F,size:31},labelOffset:2,
            callback:v=>near(yLabelled,v)?Number(v).toFixed(1):''}}
      }}});
}
panel('c1',aqlSoftBlue,aqlSoftGreen,aqlSoftRed,true,true,56.5,1);
panel('c2',u4SoftBlue,u4SoftGreen,u4SoftRed,true,false,56.5,1);
panel('c3',aqlIntBlue,aqlIntGreen,aqlIntRed,false,true,52,25);
panel('c4',u4IntBlue,u4IntGreen,u4IntRed,false,false,52,25);
</script>
</body></html>
